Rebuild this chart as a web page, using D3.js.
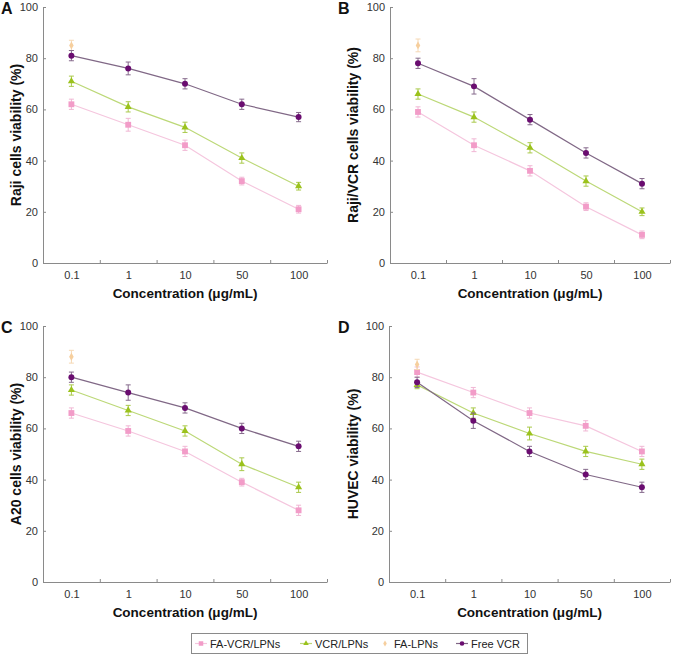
<!DOCTYPE html>
<html><head><meta charset="utf-8">
<script src="https://cdn.jsdelivr.net/npm/d3@7"></script>
<style>
body{margin:0;background:#fff;}
svg{display:block;font-family:"Liberation Sans",Arial,sans-serif;}
</style></head>
<body><svg id="chart" width="674" height="656"></svg>
<script>
const categories = ["0.1","1","10","50","100"];
const seriesNames = ["FA-VCR/LPNs","VCR/LPNs","FA-LPNs","Free VCR"];
const yTicks = [0,20,40,60,80,100];

const panelLetters = ["A","B","C","D"];
const yTitles = ["Raji cells viability (%)","Raji/VCR cells viability (%)","A20 cells viability (%)","HUVEC viability (%)"];
const xTitle = "Concentration (\u03bcg/mL)";

// values per panel: [FA-VCR/LPNs, VCR/LPNs, FA-LPNs, Free VCR]
const faVcrLpns = [[62,54,46,32,21],[59,46,36,22,11],[66,59,51,39,28],[82,74,66,61,51]];
const vcrLpns   = [[71,61,53,41,30],[66,57,45,32,20],[75,67,59,46,37],[77,66,58,51,46]];
const faLpns    = [[85],[85],[88],[85]];
const freeVcr   = [[81,76,70,62,57],[78,69,56,43,31],[80,74,68,60,53],[78,63,51,42,37]];

const faVcrErr = [[2,2.5,2,1.5,1.5],[2,2.5,2,1.5,1.5],[2,2,2,1.5,2],[2,2,2,2,2]];
const vcrErr   = [[2,2,2,2,1.5],[2,2,2,2,1.5],[2,2,2,2.5,2],[1.5,2,2.5,2,2]];
const faLpnsErr= [[2],[2.5],[2.5],[2]];
const freeErr  = [[2,2.5,2,2,1.8],[2,3,2,2,2],[2,3,2,2,2],[2,3,2,2,2]];

const styles = [
  {marker:"square",  fill:"#f29cc8", line:"#f5c6de", err:"#f0b6d4"},
  {marker:"triangle",fill:"#9bc21c", line:"#bcd877", err:"#a9c94a"},
  {marker:"diamond", fill:"#f6cf9e", line:"none",    err:"#f5d8b4"},
  {marker:"circle",  fill:"#6a0d70", line:"#806886", err:"#866a8c"}
];

const panels = [
  {x0:43,  x1:327, y0:263, y1:7,   tx:0},
  {x0:390, x1:670, y0:263, y1:7,   tx:337},
  {x0:43,  x1:327, y0:582, y1:326, tx:0},
  {x0:389, x1:670, y0:582, y1:326, tx:337}
];

const svg = d3.select("#chart");

function drawMarker(g, type, x, y, st, size){
  const sym = {square:d3.symbolSquare, triangle:d3.symbolTriangle, diamond:d3.symbolDiamond, circle:d3.symbolCircle}[type];
  const area = {square:34, triangle:22, diamond:18, circle:28}[type]*(size||1);
  g.append("path").attr("d", d3.symbol().type(sym).size(area)())
    .attr("transform", `translate(${x},${y})`).attr("fill", st.fill);
}

panels.forEach((p,i)=>{
  const g = svg.append("g");
  const x = d3.scaleLinear().domain([-0.5,4.5]).range([p.x0,p.x1]);
  const y = d3.scaleLinear().domain([0,100]).range([p.y0,p.y1]);

  const ya = g.append("g").attr("transform",`translate(${p.x0},0)`)
    .call(d3.axisLeft(y).tickValues(yTicks).tickSizeInner(-3).tickSizeOuter(0).tickPadding(5));
  ya.select(".domain").attr("stroke","#8a8a8a");
  ya.selectAll(".tick line").attr("stroke","#8a8a8a");
  ya.selectAll("text").attr("font-size","11px").attr("fill","#333");

  const xa = g.append("g").attr("transform",`translate(0,${p.y0})`)
    .call(d3.axisBottom(x).tickValues([0.5,1.5,2.5,3.5,4.5]).tickSizeInner(-3).tickSizeOuter(0).tickFormat(""));
  xa.select(".domain").attr("stroke","#8a8a8a");
  xa.selectAll(".tick line").attr("stroke","#8a8a8a");
  const xl = g.append("g").attr("transform",`translate(0,${p.y0})`)
    .call(d3.axisBottom(x).tickValues([0,1,2,3,4]).tickFormat(d=>categories[d]).tickSize(0).tickPadding(8));
  xl.select(".domain").remove();
  xl.selectAll("text").attr("font-size","11px").attr("fill","#333");

  g.append("text").attr("x",(p.x0+p.x1)/2).attr("y",p.y0+35)
    .attr("text-anchor","middle").attr("font-size","13.5px").attr("font-weight","bold").attr("fill","#111").text(xTitle);
  const ymid = (p.y0+p.y1)/2;
  g.append("text").attr("transform",`translate(${p.tx+21},${ymid}) rotate(-90)`)
    .attr("text-anchor","middle").attr("font-size","14px").attr("font-weight","bold").attr("fill","#111").text(yTitles[i]);
  g.append("text").attr("x",p.tx+1).attr("y",p.y1+7).attr("font-size","16px").attr("font-weight","bold").attr("fill","#111").text(panelLetters[i]);

  const data = [faVcrLpns[i], vcrLpns[i], faLpns[i], freeVcr[i]];
  const errs = [faVcrErr[i], vcrErr[i], faLpnsErr[i], freeErr[i]];
  [0,1,2,3].forEach(s=>{
    const st = styles[s];
    const vals = data[s];
    if(st.line!=="none" && vals.length>1){
      g.append("path").datum(vals)
        .attr("d", d3.line().x((d,k)=>x(k)).y(d=>y(d)))
        .attr("fill","none").attr("stroke",st.line).attr("stroke-width",1.2);
    }
    vals.forEach((v,k)=>{
      const e = errs[s][k];
      const cx = x(k);
      g.append("line").attr("x1",cx).attr("x2",cx).attr("y1",y(v-e)).attr("y2",y(v+e)).attr("stroke",st.err).attr("stroke-width",1);
      [v-e,v+e].forEach(w=>{
        g.append("line").attr("x1",cx-2.5).attr("x2",cx+2.5).attr("y1",y(w)).attr("y2",y(w)).attr("stroke",st.err).attr("stroke-width",1);
      });
    });
    vals.forEach((v,k)=>drawMarker(g, st.marker, x(k), y(v), st));
  });
});

const lg = svg.append("g");
lg.append("rect").attr("x",191.5).attr("y",633.5).attr("width",336).attr("height",20)
  .attr("fill","#fff").attr("stroke","#8a8a8a").attr("stroke-width",1);
const legendX = [201,306,385,462];
seriesNames.forEach((n,s)=>{
  const st = styles[s];
  const cx = legendX[s], cy = 643.5;
  if(st.line!=="none"){
    lg.append("line").attr("x1",cx-6).attr("x2",cx+6).attr("y1",cy).attr("y2",cy).attr("stroke",st.line).attr("stroke-width",1.2);
  }
  drawMarker(lg, st.marker, cx, cy, st, 0.6);
  lg.append("text").attr("x",cx+9).attr("y",cy+4).attr("font-size","11px").attr("fill","#222").text(n);
});
</script></body></html>
